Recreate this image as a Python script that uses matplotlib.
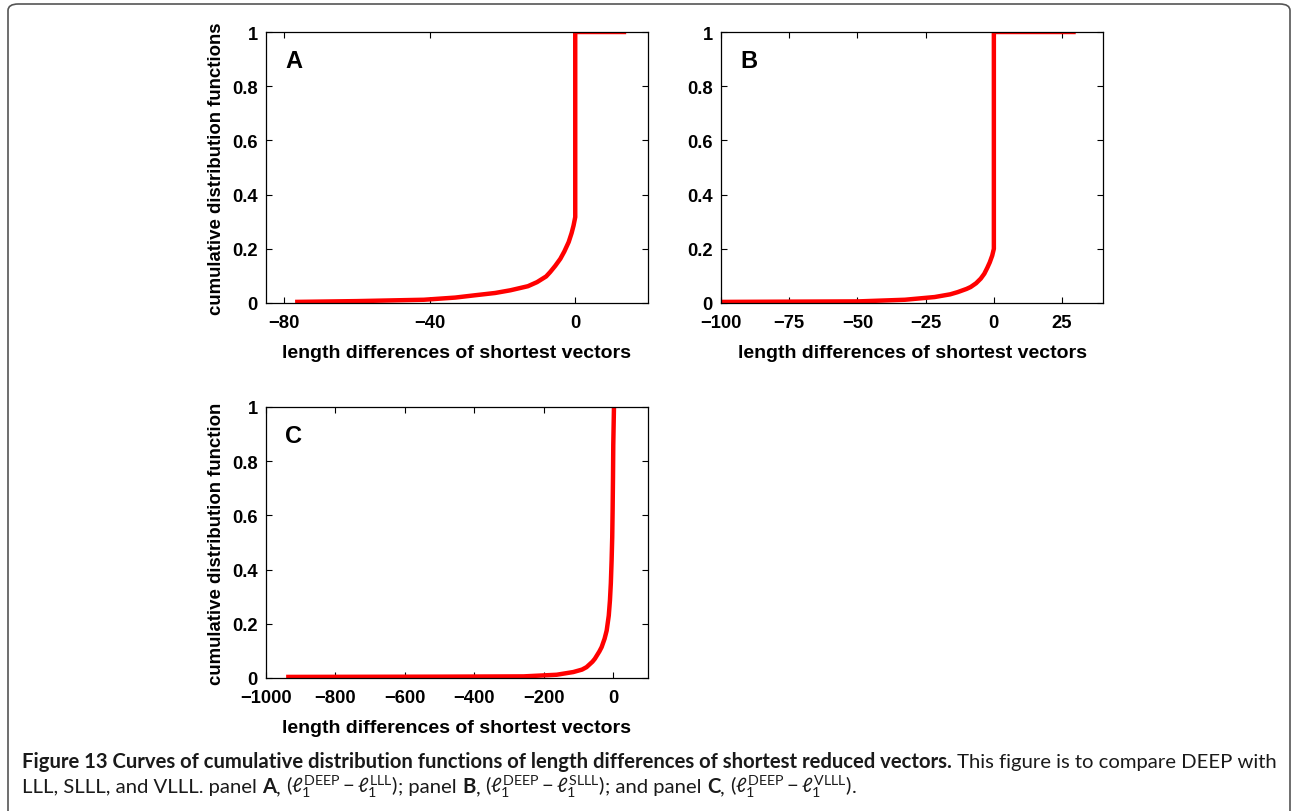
import matplotlib
matplotlib.use('Agg')
import matplotlib.pyplot as plt
from matplotlib.patches import FancyBboxPatch

plt.rcParams['font.family'] = ['Liberation Sans', 'DejaVu Sans']
plt.rcParams['mathtext.fontset'] = 'custom'
plt.rcParams['mathtext.rm'] = 'Lato'
plt.rcParams['mathtext.it'] = 'Lato:italic'
plt.rcParams['mathtext.bf'] = 'Lato:bold'

# panel A: DEEP - LLL
a_x = [-77, -60, -41.6, -33, -27.9, -22, -17.8, -13, -10.5, -8, -6.9, -5.5, -4.1, -3, -1.8, -1, -0.46, 0, 0, 14]
a_y = [0.004, 0.007, 0.012, 0.02, 0.028, 0.037, 0.047, 0.062, 0.077, 0.098, 0.114, 0.137, 0.163, 0.19, 0.225, 0.258, 0.286, 0.317, 1, 1]
# panel B: DEEP - SLLL
b_x = [-100, -75, -49.5, -32.6, -21.7, -16, -13.3, -10, -8.5, -6.5, -4.8, -3.5, -2.4, -1.5, -0.6, 0, 0, 30]
b_y = [0.004, 0.005, 0.006, 0.012, 0.022, 0.032, 0.04, 0.052, 0.059, 0.073, 0.09, 0.108, 0.13, 0.15, 0.175, 0.2, 1, 1]
# panel C: DEEP - VLLL
c_x = [-942, -500, -258, -163, -115, -90, -77, -60, -53, -40, -33.5, -25, -19, -13, -9.6, -7, -4.8, -3, -1.9, -0.8, 0, 2]
c_y = [0.004, 0.005, 0.006, 0.012, 0.022, 0.031, 0.04, 0.06, 0.071, 0.098, 0.114, 0.145, 0.175, 0.23, 0.286, 0.35, 0.433, 0.52, 0.617, 0.74, 0.86, 1.0]

a_xticks = [-80, -40, 0]
b_xticks = [-100, -75, -50, -25, 0, 25]
c_xticks = [-1000, -800, -600, -400, -200, 0]
y_ticks = [0, 0.2, 0.4, 0.6, 0.8, 1]
y_ticklabels = ['0', '0.2', '0.4', '0.6', '0.8', '1']

W, H = 1294, 812
fig = plt.figure(figsize=(W / 100, H / 100), dpi=100)


def px_axes(l, t, r, b):
    return fig.add_axes([l / W, 1 - b / H, (r - l) / W, (b - t) / H])


def style(ax, x, y, xlim, xticks, letter, ylabel):
    ax.plot(x, y, color='#ff0000', lw=3.2, solid_capstyle='butt')
    ax.set_xlim(*xlim)
    ax.set_ylim(0, 1)
    ax.set_xticks(xticks)
    ax.set_xticklabels([str(t).replace('-', '\u2212') for t in xticks])
    ax.set_yticks(y_ticks)
    ax.set_yticklabels(y_ticklabels)
    ax.tick_params(direction='in', length=4, width=0.8, top=True, right=True,
                   labelsize=13.2)
    ax.tick_params(axis='x', pad=8)
    ax.tick_params(axis='y', pad=6)
    for lab in ax.get_xticklabels() + ax.get_yticklabels():
        lab.set_fontweight('bold')
    for s in ax.spines.values():
        s.set_linewidth(0.9)
    ax.set_xlabel('length differences of shortest vectors', fontsize=14,
                  fontweight='bold', labelpad=9)
    if ylabel:
        ax.set_ylabel(ylabel, fontsize=13.4, fontweight='bold', labelpad=5)
    ax.text(0.05, 0.893, letter, transform=ax.transAxes, fontsize=17,
            fontweight='bold', va='center', ha='left')


ax_a = px_axes(266, 33, 648, 304)
style(ax_a, a_x, a_y, (-85, 20), a_xticks, 'A', 'cumulative distribution functions')
ax_b = px_axes(721, 33, 1103, 304)
style(ax_b, b_x, b_y, (-100, 40), b_xticks, 'B', None)
ax_c = px_axes(266, 408, 648, 679)
style(ax_c, c_x, c_y, (-1000, 100), c_xticks, 'C', 'cumulative distribution function')

# frame around figure
frame = FancyBboxPatch((8 / W, -0.05), (1290 - 8) / W, (H - 5) / H + 0.05,
                       boxstyle='round,pad=0,rounding_size=0.008',
                       transform=fig.transFigure, fill=False,
                       edgecolor='#555555', lw=1.2)
fig.patches.append(frame)

# caption, drawn in pieces
renderer = fig.canvas.get_renderer()
cap_fs = 14.6


def draw_line(pieces, x0, ybase):
    x = x0
    for txt, wt in pieces:
        if txt == ' ':
            t = fig.text(0, 0, 'a a', fontsize=cap_fs, family='Lato')
            w1 = t.get_window_extent(renderer).width
            t.set_text('aa')
            w2 = t.get_window_extent(renderer).width
            t.remove()
            x += w1 - w2
            continue
        t = fig.text(x / W, 1 - ybase / H, txt, fontsize=cap_fs, fontweight=wt,
                     family='Lato', va='baseline', ha='left', color='#1a1a1a')
        bb = t.get_window_extent(renderer)
        x += bb.width


pair_lll = '$(\\ell_1^{\\mathrm{DEEP}} - \\ell_1^{\\mathrm{LLL}})$'
pair_slll = '$(\\ell_1^{\\mathrm{DEEP}} - \\ell_1^{\\mathrm{SLLL}})$'
pair_vlll = '$(\\ell_1^{\\mathrm{DEEP}} - \\ell_1^{\\mathrm{VLLL}})$'

line1 = [('Figure 13 Curves of cumulative distribution functions of length differences of shortest reduced vectors.', 'bold'),
         (' This figure is to compare DEEP with', 'normal')]
line2 = [('LLL, SLLL, and VLLL. panel ', 'normal'), ('A', 'bold'), (',', 'normal'), (' ', 'normal'),
         (pair_lll, 'normal'), ('; panel ', 'normal'), ('B', 'bold'), (',', 'normal'), (' ', 'normal'),
         (pair_slll, 'normal'), ('; and panel ', 'normal'), ('C', 'bold'), (',', 'normal'), (' ', 'normal'),
         (pair_vlll, 'normal'), ('.', 'normal')]
draw_line(line1, 22, 768)
draw_line(line2, 22, 793)

fig.savefig('out.png', dpi=100)
